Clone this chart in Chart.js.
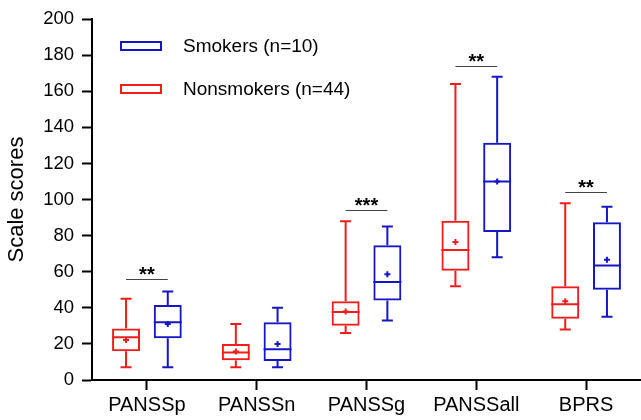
<!DOCTYPE html>
<html>
<head>
<meta charset="utf-8">
<script src="https://cdn.jsdelivr.net/npm/chart.js@4.4.1/dist/chart.umd.min.js"></script>
<style>
  html, body { margin: 0; padding: 0; background: #fff; }
  #wrap { width: 641px; height: 420px; }
</style>
</head>
<body>
<div id="wrap"><canvas id="boxChart"></canvas></div>
<script>
// categories and box statistics
const categories = ['PANSSp', 'PANSSn', 'PANSSg', 'PANSSall', 'BPRS'];

const nsMin    = [7, 7, 26, 52, 28];
const nsQ1     = [16, 11, 30, 60.5, 34];
const nsMedian = [23.7, 15.3, 37.7, 72, 42];
const nsQ3     = [28.6, 20, 43.7, 88.3, 52];
const nsMax    = [45, 31, 88, 164, 98];
const nsMean   = [22.2, 15.8, 37.9, 76.5, 43.7];

const smMin    = [7, 7, 33, 68, 35];
const smQ1     = [23.1, 10.5, 44, 82, 50];
const smMedian = [32, 17, 54.3, 110, 63.4];
const smQ3     = [41.5, 32, 74.7, 131.5, 87.4];
const smMax    = [49, 40, 85, 168, 96];
const smMean   = [31, 20, 58.6, 110, 66.7];

const sigStars  = ['**', '', '***', '**', '**'];
const sigLevels = [56, null, 94, 174, 104];

const yTicks = [0, 20, 40, 60, 80, 100, 120, 140, 160, 180, 200];

const RED = '#f21c1c';
const BLUE = '#1616c4';
const FONT = '"Liberation Sans", Arial, sans-serif';

const boxStats = [
  { min: nsMin, q1: nsQ1, med: nsMedian, q3: nsQ3, max: nsMax, mean: nsMean },
  { min: smMin, q1: smQ1, med: smMedian, q3: smQ3, max: smMax, mean: smMean }
];

// whiskers, medians, means, significance bars and legend
const boxPlugin = {
  id: 'boxPlugin',
  afterDatasetsDraw(chart) {
    const ctx = chart.ctx;
    const y = chart.scales.y;
    ctx.save();
    chart.data.datasets.forEach((ds, di) => {
      const meta = chart.getDatasetMeta(di);
      const st = boxStats[di];
      ctx.strokeStyle = ds.borderColor;
      ctx.lineWidth = 2;
      meta.data.forEach((bar, i) => {
        const x = bar.x, w = bar.width;
        const cap = 11;
        const pMin = y.getPixelForValue(st.min[i]);
        const pQ1 = y.getPixelForValue(st.q1[i]);
        const pMed = y.getPixelForValue(st.med[i]);
        const pQ3 = y.getPixelForValue(st.q3[i]);
        const pMax = y.getPixelForValue(st.max[i]);
        const pMean = y.getPixelForValue(st.mean[i]);
        ctx.beginPath();
        ctx.moveTo(x, pQ3); ctx.lineTo(x, pMax);
        ctx.moveTo(x - cap / 2, pMax); ctx.lineTo(x + cap / 2, pMax);
        ctx.moveTo(x, pQ1); ctx.lineTo(x, pMin);
        ctx.moveTo(x - cap / 2, pMin); ctx.lineTo(x + cap / 2, pMin);
        ctx.moveTo(x - w / 2, pMed); ctx.lineTo(x + w / 2, pMed);
        ctx.stroke();
        // mean marker
        ctx.beginPath();
        ctx.moveTo(x - 3, pMean); ctx.lineTo(x + 3, pMean);
        ctx.moveTo(x, pMean - 3); ctx.lineTo(x, pMean + 3);
        ctx.stroke();
      });
    });

    // significance brackets
    const m0 = chart.getDatasetMeta(0), m1 = chart.getDatasetMeta(1);
    ctx.font = 'bold 20px ' + FONT;
    ctx.textAlign = 'center';
    ctx.textBaseline = 'alphabetic';
    sigStars.forEach((s, i) => {
      if (!s) return;
      const py = Math.round(y.getPixelForValue(sigLevels[i])) + 0.5;
      const x0 = m0.data[i].x, x1 = m1.data[i].x;
      ctx.strokeStyle = '#444';
      ctx.lineWidth = 1;
      ctx.beginPath();
      ctx.moveTo(x0, py); ctx.lineTo(x1, py);
      ctx.stroke();
      ctx.fillStyle = '#000';
      ctx.fillText(s, (x0 + x1) / 2, py + 1);
    });

    // legend (Smokers listed first)
    const area = chart.chartArea;
    const items = [chart.data.datasets[1], chart.data.datasets[0]];
    ctx.font = '19px ' + FONT;
    ctx.textAlign = 'left';
    ctx.textBaseline = 'middle';
    items.forEach((ds, k) => {
      const cy = 46 + k * 43;
      ctx.strokeStyle = ds.borderColor;
      ctx.lineWidth = 2;
      ctx.strokeRect(area.left + 29, cy - 4, 40, 8);
      ctx.fillStyle = '#000';
      ctx.fillText(ds.label, area.left + 91, cy + 1);
    });
    ctx.restore();
  }
};

new Chart(document.getElementById('boxChart'), {
  type: 'bar',
  data: {
    labels: categories,
    datasets: [
      {
        label: 'Nonsmokers (n=44)',
        data: nsQ1.map((v, i) => [v, nsQ3[i]]),
        backgroundColor: 'rgba(255,255,255,0)',
        borderColor: RED,
        borderWidth: 2,
        borderSkipped: false,
        barPercentage: 0.67,
        categoryPercentage: 0.76
      },
      {
        label: 'Smokers (n=10)',
        data: smQ1.map((v, i) => [v, smQ3[i]]),
        backgroundColor: 'rgba(255,255,255,0)',
        borderColor: BLUE,
        borderWidth: 2,
        borderSkipped: false,
        barPercentage: 0.67,
        categoryPercentage: 0.76
      }
    ]
  },
  options: {
    responsive: true,
    maintainAspectRatio: false,
    animation: false,
    layout: { padding: { top: 14, right: 0, bottom: 0, left: 0 } },
    plugins: {
      legend: { display: false },
      tooltip: { enabled: false }
    },
    scales: {
      x: {
        offset: true,
        afterFit: (scale) => { scale.height = 40; },
        grid: {
          offset: false,
          drawOnChartArea: false,
          drawTicks: true,
          tickLength: 10,
          tickWidth: 2,
          color: '#000'
        },
        border: { display: true, color: '#000', width: 2 },
        ticks: {
          color: '#000',
          padding: 3,
          font: { family: FONT, size: 20 }
        }
      },
      y: {
        min: 0,
        max: 200,
        afterFit: (scale) => { scale.width = 92; },
        afterBuildTicks: (scale) => { scale.ticks = yTicks.map(v => ({ value: v })); },
        grid: {
          drawOnChartArea: false,
          drawTicks: true,
          tickLength: 10,
          tickWidth: 2,
          color: '#000'
        },
        border: { display: true, color: '#000', width: 2 },
        ticks: {
          color: '#000',
          padding: 8,
          font: { family: FONT, size: 18.5 }
        },
        title: {
          display: true,
          text: 'Scale scores',
          color: '#000',
          padding: { top: 4, bottom: 0 },
          font: { family: FONT, size: 22 }
        }
      }
    }
  },
  plugins: [boxPlugin]
});
</script>
</body>
</html>
